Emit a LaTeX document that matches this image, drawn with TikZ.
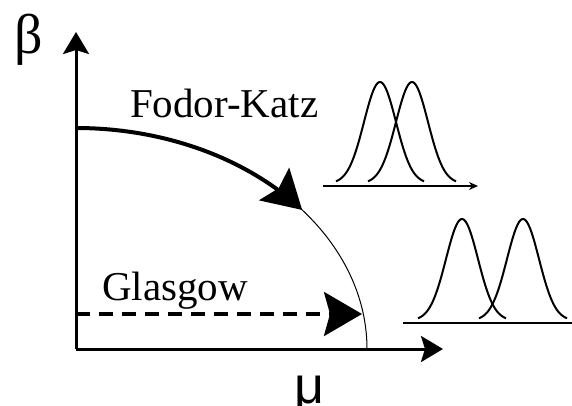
\documentclass[tikz,border=0pt]{standalone}
\usepackage{fontspec}
\setmainfont{Liberation Serif}
\newfontfamily\musans{Liberation Sans}
\usetikzlibrary{arrows.meta}
\tikzset{
  axis/.style={line width=3pt,-{Stealth[length=22pt,width=26pt,inset=4pt]}},
  bigtip/.style={-{Stealth[length=38pt,width=44pt,inset=6pt]}},
  gauss/.style={line width=2pt},
  lab/.style={font=\fontsize{41}{41}\selectfont,inner sep=0pt,anchor=base west},
}
\begin{document}
\begin{tikzpicture}[x=1pt,y=-1pt]
\useasboundingbox (0,0) rectangle (572,406);
\coordinate (O) at (76,349);
\coordinate (ytip) at (76,32);
\coordinate (xtip) at (443,349);
\draw[axis] (O) -- (ytip);
\draw[axis] (O) -- (xtip);
% phase boundary (thin)
\draw[line width=1pt] plot[domain=0:40,samples=40,smooth] ({76+291*cos(\x)},{349-221*sin(\x)});
% Fodor-Katz thick arrow
\coordinate (fkstart) at (76,128);
\draw[line width=4pt,bigtip] plot[domain=90:39,samples=50,smooth] ({76+291*cos(\x)},{349-221*sin(\x)});
% Glasgow dashed arrow
\coordinate (glstart) at (76,314);
\coordinate (glend) at (362,314);
\draw[line width=3.5pt,dash pattern=on 14pt off 9pt,bigtip] (glstart) -- (glend);
% labels
\node[lab] (fk) at (130,118) {Fodor-Katz};
\node[lab] (gl) at (102,300) {Glasgow};
\node[inner sep=0pt,anchor=base west,font=\fontsize{56}{56}\selectfont] (beta) at (14,54) {β};
\node[inner sep=0pt,anchor=base west,font=\musans\fontsize{52}{52}\selectfont] (mu) at (294,403) {μ};
% top distributions
\coordinate (b1s) at (323,186);
\coordinate (b1e) at (478,186);
\draw[line width=2pt,-{Stealth[length=9pt,width=8pt]}] (b1s) -- (b1e);
\foreach \c in {380,412}{
  \draw[gauss] plot[domain=-44:44,samples=60,smooth] ({\c+\x},{183.6-101.6*exp(-(\x*\x)/(2*16*16))});
}
% bottom distributions
\coordinate (b2s) at (403,323);
\coordinate (b2e) at (572,323);
\draw[line width=2.5pt] (b2s) -- (b2e);
\foreach \c in {462,523}{
  \draw[gauss] plot[domain=-44:44,samples=60,smooth] ({\c+\x},{320.6-101.6*exp(-(\x*\x)/(2*16*16))});
}
\end{tikzpicture}
\end{document}
